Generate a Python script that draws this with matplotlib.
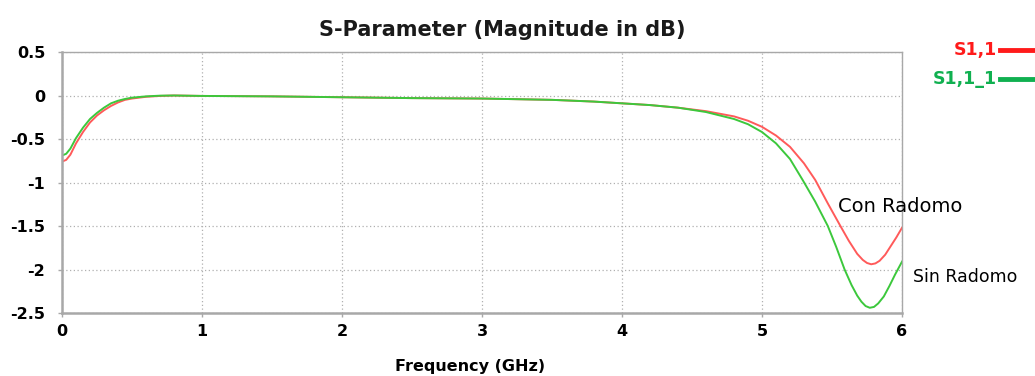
import matplotlib.pyplot as plt
from matplotlib.lines import Line2D

plt.rcParams.update({
    "font.family": ["DejaVu Sans"],
    "font.size": 11,
})

# frequency (GHz) and |S11| in dB
freq_red = [0.0, 0.03, 0.06, 0.1, 0.15, 0.2, 0.25, 0.3, 0.35, 0.4, 0.45, 0.5, 0.6, 0.7, 0.8,
            1.0, 1.5, 2.0, 2.5, 3.0, 3.5, 3.8, 4.0, 4.2, 4.4, 4.6, 4.8, 4.9, 5.0,
            5.1, 5.2, 5.3, 5.38, 5.47, 5.56, 5.62, 5.68, 5.72, 5.75, 5.78, 5.81, 5.84, 5.88, 5.92,
            5.96, 6.0]
s11_red = [-0.76, -0.74, -0.68, -0.55, -0.42, -0.31, -0.23, -0.17, -0.12, -0.08, -0.05, -0.035, -0.015, -0.005, 0.0,
           -0.005, -0.01, -0.02, -0.03, -0.035, -0.05, -0.07, -0.09, -0.11, -0.14, -0.18, -0.24, -0.29, -0.36,
           -0.46, -0.59, -0.78, -0.97, -1.24, -1.5, -1.67, -1.82, -1.89, -1.925, -1.94, -1.93, -1.9, -1.83, -1.73,
           -1.63, -1.52]

freq_green = [0.0, 0.03, 0.06, 0.1, 0.15, 0.2, 0.25, 0.3, 0.35, 0.4, 0.45, 0.5, 0.6, 0.7, 0.8,
              1.0, 1.5, 2.0, 2.5, 3.0, 3.5, 3.8, 4.0, 4.2, 4.4, 4.6, 4.8, 4.9, 5.0,
              5.1, 5.2, 5.29, 5.38, 5.47, 5.53, 5.59, 5.64, 5.68, 5.71, 5.74, 5.77, 5.8, 5.83, 5.87,
              5.91, 5.95, 6.0]
s11_green = [-0.69, -0.67, -0.61, -0.49, -0.37, -0.27, -0.2, -0.14, -0.09, -0.06, -0.04, -0.025, -0.01, -0.002, 0.0,
             -0.005, -0.01, -0.02, -0.03, -0.035, -0.05, -0.07, -0.09, -0.11, -0.14, -0.19, -0.27, -0.33, -0.42,
             -0.55, -0.73, -0.97, -1.22, -1.5, -1.74, -2.0, -2.18, -2.3, -2.37, -2.42, -2.44, -2.43, -2.39, -2.31,
             -2.19, -2.06, -1.91]

x_ticks = [0, 1, 2, 3, 4, 5, 6]
y_ticks = [0.5, 0, -0.5, -1, -1.5, -2, -2.5]

RED = "#ff5a5a"
GREEN = "#3cc83c"
GRID = "#b0b0b0"

fig = plt.figure(figsize=(10.35, 3.76), dpi=100)
ax = fig.add_axes([62 / 1035, 1 - 313 / 376, 840 / 1035, 261 / 376])

ax.plot(freq_red, s11_red, color=RED, lw=1.4)
ax.plot(freq_green, s11_green, color=GREEN, lw=1.4)

ax.set_xlim(0, 6)
ax.set_ylim(-2.5, 0.5)
ax.set_xticks(x_ticks)
ax.set_yticks(y_ticks)
ax.set_yticklabels([f"{v:g}" for v in y_ticks])
ax.grid(True, color=GRID, linestyle=(0, (1, 2)), lw=0.9)
for s in ax.spines.values():
    s.set_color("#a8a8a8")
ax.spines["left"].set_linewidth(1.8)
ax.spines["bottom"].set_linewidth(1.8)
ax.spines["top"].set_linewidth(1.0)
ax.spines["right"].set_linewidth(1.0)
ax.tick_params(axis="y", length=3, width=1, color="#a8a8a8", pad=9)
ax.tick_params(axis="x", length=3, width=1, color="#a8a8a8", pad=5)
for lbl in ax.get_xticklabels() + ax.get_yticklabels():
    lbl.set_fontweight("bold")
    lbl.set_fontsize(11.5)

fig.text(502 / 1035, 1 - 30 / 376, "S-Parameter (Magnitude in dB)", fontsize=15,
         fontweight="bold", color="#1a1a1a", ha="center", va="center")
fig.text(470 / 1035, 1 - 367 / 376, "Frequency (GHz)", fontsize=11.5, fontweight="semibold",
         ha="center", va="center")

ax.text(5.54, -1.28, "Con Radomo", fontsize=14, ha="left", va="center")
ax.text(6.08, -2.09, "Sin Radomo", fontsize=12.5, ha="left", va="center", clip_on=False)

# legend in the top right corner
fig.text(997 / 1035, 1 - 50 / 376, "S1,1", color="#ff1a1a", fontsize=12.5,
         fontweight="bold", ha="right", va="center")
fig.text(997 / 1035, 1 - 79 / 376, "S1,1_1", color="#10b050", fontsize=12.5,
         fontweight="bold", ha="right", va="center")
fig.add_artist(Line2D([1000 / 1035, 1035 / 1035], [1 - 50 / 376] * 2, color="#ff1a1a", lw=3.5))
fig.add_artist(Line2D([1000 / 1035, 1035 / 1035], [1 - 79 / 376] * 2, color="#10b050", lw=3.5))

fig.savefig("out.png", dpi=100)
